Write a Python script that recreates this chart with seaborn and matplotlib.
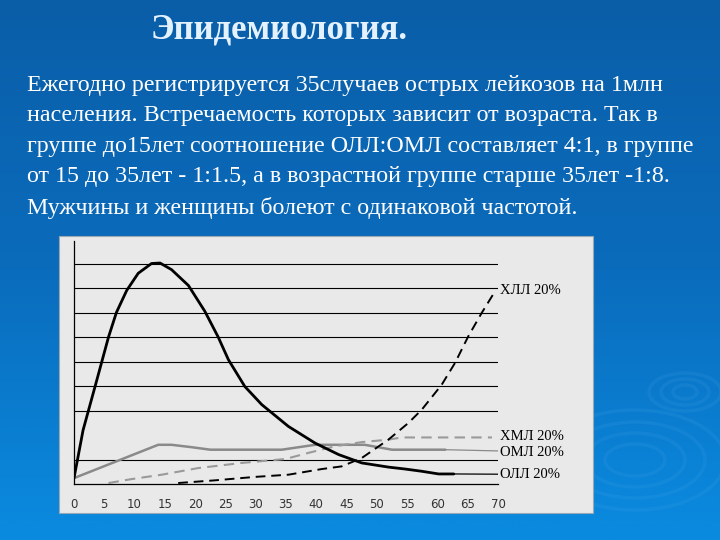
import numpy as np
import pandas as pd
import seaborn as sns
import matplotlib.pyplot as plt
from matplotlib.patches import Rectangle, Ellipse
from matplotlib.colors import LinearSegmentedColormap

# ОЛЛ (acute lymphoblastic) - solid black
oll_age = [0, 1.5, 3.5, 4.6, 5.7, 7.0, 8.7, 10.6, 12.8, 14.2, 16.1, 18.9, 21.6, 23.8, 25.5,
           28.2, 31.0, 35.4, 39.8, 43.7, 47.5, 51.9, 54.7, 57.4, 60.2, 62.7]
oll_val = [0.24, 2.2, 4.0, 5.0, 6.0, 7.0, 7.9, 8.6, 9.0, 9.02, 8.75, 8.1, 7.05, 6.0, 5.07,
           3.98, 3.24, 2.35, 1.67, 1.2, 0.86, 0.69, 0.61, 0.52, 0.41, 0.41]

# ОМЛ (acute myeloid) - solid gray
oml_age = [0, 13.9, 16.1, 19.5, 22.5, 34.3, 39.8, 48.0, 52.5, 61.3]
oml_val = [0.24, 1.6, 1.6, 1.5, 1.4, 1.4, 1.6, 1.6, 1.4, 1.4]

# ХМЛ (chronic myeloid) - dashed gray
hml_age = [5.7, 9.5, 14.5, 20.5, 27.7, 34.9, 38.7, 43.1, 47.5, 51.9, 54.1, 69.0]
hml_val = [0.04, 0.2, 0.38, 0.65, 0.86, 1.02, 1.27, 1.54, 1.71, 1.81, 1.9, 1.9]

# ХЛЛ (chronic lymphoid) - dashed black
hll_age = [17.2, 23.3, 29.9, 35.4, 40.9, 44.2, 47.5, 51.9, 55.2, 57.4, 60.7, 62.9, 65.1, 67.3, 69.5]
hll_val = [0.04, 0.15, 0.29, 0.38, 0.61, 0.72, 1.06, 1.81, 2.49, 3.03, 4.05, 4.94, 6.03, 6.98, 7.86]

labels = ["ХЛЛ 20%", "ХМЛ 20%", "ОМЛ 20%", "ОЛЛ 20%"]
label_y = [7.9, 1.95, 1.3, 0.4]
x_ticks = list(range(0, 75, 5))
grid_y = [1, 3, 4, 5, 6, 7, 8, 9]

title = "Эпидемиология."
body = ("Ежегодно регистрируется 35случаев острых лейкозов на 1млн\n"
        "населения. Встречаемость которых зависит от возраста. Так в\n"
        "группе до15лет соотношение ОЛЛ:ОМЛ составляет 4:1, в группе\n"
        "от 15 до 35лет - 1:1.5, а в возрастной группе старше 35лет -1:8.\n"
        "Мужчины и женщины болеют с одинаковой частотой.")

sns.set_style("white")
plt.rcParams['font.family'] = ['Liberation Serif', 'DejaVu Serif']

W, H = 720, 540
fig = plt.figure(figsize=(7.2, 5.4), dpi=100)

# slide background gradient
bg = fig.add_axes([0, 0, 1, 1])
grad = np.linspace(0, 1, 256).reshape(-1, 1)
cmap = LinearSegmentedColormap.from_list("slide", ["#0b5ea8", "#0a6cbc", "#0a8be0"])
bg.imshow(grad, aspect='auto', cmap=cmap, extent=[0, W, H, 0], origin='upper')
bg.set_xlim(0, W)
bg.set_ylim(H, 0)
bg.set_axis_off()
# faint water ripples
for cx, cy, rx, ry in [(685, 392, 12, 7), (685, 392, 24, 13), (685, 392, 36, 19),
                       (635, 460, 30, 16), (635, 460, 50, 27), (635, 460, 70, 38),
                       (635, 460, 90, 50)]:
    bg.add_patch(Ellipse((cx, cy), 2 * rx, 2 * ry, fill=False,
                         edgecolor="#6ab8f2", lw=2.5, alpha=0.1))

# chart panel
fig.patches.append(Rectangle((59 / W, 1 - 513 / H), (593 - 59) / W, (513 - 236) / H,
                             transform=fig.transFigure, facecolor="#e9e9e9",
                             edgecolor="#9aa8b4", lw=0.8, zorder=1))

fig.text(279 / W, 1 - 30 / H, title, ha='center', va='center', fontsize=25,
         fontweight='bold', color="#e4f2ff")
fig.text(27 / W, 1 - 75 / H, body, ha='left', va='top', fontsize=17.3,
         color="white", linespacing=1.58)

ax = fig.add_axes([74 / W, 1 - 484 / H, (498 - 74) / W, 245 / H], zorder=2)
ax.patch.set_alpha(0)

df_oll = pd.DataFrame({"age": oll_age, "val": oll_val})
df_oml = pd.DataFrame({"age": oml_age, "val": oml_val})
df_hml = pd.DataFrame({"age": hml_age, "val": hml_val})
df_hll = pd.DataFrame({"age": hll_age, "val": hll_val})

sns.lineplot(data=df_oml, x="age", y="val", ax=ax, color="#8a8a8a", lw=1.8, sort=False)
sns.lineplot(x=[oml_age[-1], 70], y=[oml_val[-1], label_y[2] + 0.05], ax=ax,
             color="#8a8a8a", lw=0.9)
sns.lineplot(data=df_hml, x="age", y="val", ax=ax, color="#9a9a9a", lw=1.5,
             linestyle=(0, (5, 3)), sort=False)
sns.lineplot(data=df_oll, x="age", y="val", ax=ax, color="black", lw=2.0, sort=False)
sns.lineplot(x=[oll_age[-1], 70], y=[oll_val[-1], label_y[3]], ax=ax, color="black", lw=0.9)
sns.lineplot(data=df_hll, x="age", y="val", ax=ax, color="black", lw=1.4,
             linestyle=(0, (5, 3)), sort=False)

for lab, y in zip(labels, label_y):
    ax.text(70.3, y, lab, ha='left', va='center', fontsize=10.5, color="black",
            clip_on=False)

ax.set_xlim(0, 70)
ax.set_ylim(0, 10)
ax.set_xticks(x_ticks)
ax.set_xticklabels([str(t) for t in x_ticks], family='DejaVu Sans', fontsize=8.5,
                   color="#333333")
ax.set_yticks(grid_y)
ax.set_yticklabels([])
ax.yaxis.grid(True, color="black", lw=0.8)
ax.set_axisbelow(True)
ax.tick_params(axis='x', direction='out', length=4, width=0.8, color='black', pad=6)
ax.tick_params(axis='y', direction='out', length=2, width=0.8, color='black')
ax.set_xlabel("")
ax.set_ylabel("")
for s in ["top", "right"]:
    ax.spines[s].set_visible(False)
for s in ["left", "bottom"]:
    ax.spines[s].set_color("black")
    ax.spines[s].set_linewidth(0.9)
ax.spines["left"].set_bounds(0, 9.9)

fig.savefig("out.png", dpi=100)
plt.close()
